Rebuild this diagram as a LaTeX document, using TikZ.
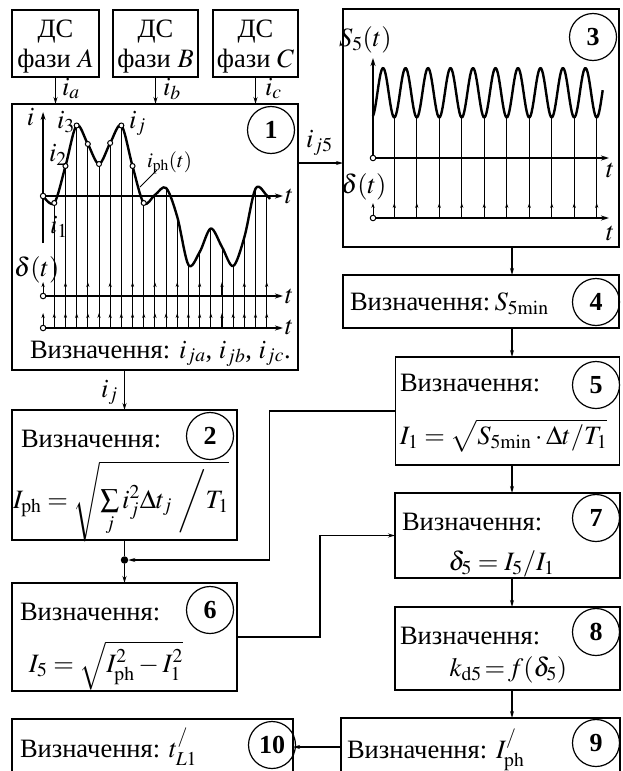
\documentclass[tikz,border=0pt]{standalone}
\usepackage{mathptmx}
\usepackage{fontspec}
\setmainfont{Liberation Serif}
\usetikzlibrary{arrows.meta,calc}
\begin{document}
\begin{tikzpicture}[x=1pt,y=-1pt,
  every node/.style={font=\fontsize{26.5}{30}\selectfont, inner sep=0pt, outer sep=0pt},
  box/.style={draw, line width=1.8pt, rectangle},
  numc/.style={draw, circle, line width=1.2pt, minimum size=47pt, font=\fontsize{26}{30}\selectfont\bfseries},
  arr/.style={line width=1.3pt, -{Stealth[length=7pt,width=4pt]}},
  arrb/.style={line width=1.8pt, -{Stealth[length=7pt,width=4pt]}},
  conn/.style={line width=1.8pt},
  axis/.style={line width=1.5pt, -{Stealth[length=8pt,width=5pt]}},
  imp/.style={line width=1pt, -{Stealth[length=5pt,width=3.2pt]}},
  samp/.style={line width=0.9pt},
  curve/.style={line width=2.4pt, line join=round},
  orig/.style={circle, draw, fill=white, line width=1pt, minimum size=5.5pt},
  lbl/.style={anchor=base west},
  txt/.style={anchor=base west},
  frm/.style={anchor=base}
]
\useasboundingbox (0,0) rectangle (622,771);
\clip (0,0) rectangle (622,771);

% ---------- boxes ----------
\node[box, minimum width=87pt, minimum height=67pt] (bA) at (55.5,43.5) {};
\node[box, minimum width=85pt, minimum height=67pt] (bB) at (155.5,43.5) {};
\node[box, minimum width=85pt, minimum height=67pt] (bC) at (255.5,43.5) {};
\node[box, minimum width=286pt, minimum height=266pt] (b1) at (155,237) {};
\node[box, minimum width=276pt, minimum height=238pt] (b3) at (481,128) {};
\node[box, minimum width=276pt, minimum height=53pt] (b4) at (481,301.5) {};
\node[box, minimum width=224pt, minimum height=108pt] (b5) at (507.5,411) {};
\node[box, minimum width=225pt, minimum height=130pt] (b2) at (124.5,475) {};
\node[box, minimum width=225pt, minimum height=85pt] (b7) at (507.5,535.5) {};
\node[box, minimum width=225pt, minimum height=108pt] (b6) at (124.5,637) {};
\node[box, minimum width=225pt, minimum height=83pt] (b8) at (507.5,648.5) {};
\node[box, minimum width=279pt, minimum height=58pt] (b9) at (480.5,747) {};
\node[box, minimum width=281pt, minimum height=56pt] (b10) at (152.5,747) {};

% ---------- number circles ----------
\node[numc] (c1) at (271,130) {1};
\node[numc] (c2) at (210,436) {2};
\node[numc] (c3) at (593,37) {3};
\node[numc] (c4) at (596,302) {4};
\node[numc] (c5) at (596,385) {5};
\node[numc] (c6) at (210,610) {6};
\node[numc] (c7) at (596,518) {7};
\node[numc] (c8) at (596,632) {8};
\node[numc] (c9) at (596,743) {9};
\node[numc] (c10) at (272,745) {10};

% ---------- texts ----------
\node[anchor=base] (tA1) at (55.5,37) {ДС};
\node[anchor=base] (tA2) at (55.5,67) {фази $A$};
\node[anchor=base] (tB1) at (155.5,37) {ДС};
\node[anchor=base] (tB2) at (155.5,67) {фази $B$};
\node[anchor=base] (tC1) at (255.5,37) {ДС};
\node[anchor=base] (tC2) at (255.5,67) {фази $C$};

\node[txt] (t1) at (30,358) {Визначення: $i_{ja}$, $i_{jb}$, $i_{jc}$.};
\node[txt] (t2) at (21,447) {Визначення:};
\node[frm] (f2) at (121,508) {$I_{\mathrm{ph}}=\sqrt{\sum\limits_j i_j^2\Delta t_j\;\bigg/T_1}$};
\node[txt] (t4) at (350,310) {Визначення:\,$S_{5\mathrm{min}}$};
\node[txt] (t5) at (400,391) {Визначення:};
\node[frm] (f5) at (503.5,444) {$I_1=\sqrt{S_{5\mathrm{min}}\cdot\Delta t/T_1}$};
\node[txt] (t6) at (20,620) {Визначення:};
\node[frm] (f6) at (106,672) {$I_5=\sqrt{I_{\mathrm{ph}}^2-I_1^2}$};
\node[txt] (t7) at (402,530) {Визначення:};
\node[frm] (f7) at (501.5,570) {$\delta_5=I_5/I_1$};
\node[txt] (t8) at (400,644) {Визначення:};
\node[frm] (f8) at (508.5,676) {$k_{\mathrm{d}5}\!=\!f(\delta_5)$};
\node[txt] (t9) at (347,758) {Визначення: $I^{/}_{\mathrm{ph}}$};
\node[txt] (t10) at (20,757) {Визначення: $t^{/}_{L1}$};

% ---------- connectors ----------
\draw[arr] (bA.south) -- (bA.south |- b1.north);
\draw[arr] (bB.south) -- (bB.south |- b1.north);
\draw[arr] (bC.south) -- (bC.south |- b1.north);
\node[lbl] (la) at (62,95) {$i_a$};
\node[lbl] (lb) at (163,95) {$i_b$};
\node[lbl] (lc) at (265,95) {$i_c$};

\draw[arr] ([yshift=-59pt]b1.north east) -- ([yshift=-59pt]b1.north east -| b3.west);
\node[lbl] (lj5) at (306,147) {$i_{j5}$};

\coordinate (col) at (512,0);
\draw[arr] (b3.south -| col) -- (b4.north -| col);
\draw[arr] (b4.south -| col) -- (b5.north -| col);
\draw[arr] (b5.south -| col) -- (b7.north -| col);
\draw[arr] (b7.south -| col) -- (b8.north -| col);
\draw[arr] (b8.south -| col) -- (b9.north -| col);

\draw[arr] (b2.north |- b1.south) -- (b2.north);
\node[lbl] (lj) at (101,397) {$i_j$};

\node[circle, fill, minimum size=7.5pt] (dot) at (124.5,560) {};
\draw[conn] (b2.south) -- (dot);
\draw[arr] (dot) -- (dot |- b6.north);
\draw[arrb] (b5.west) -- ++(-126,0) |- (dot);
\draw[arrb] (b6.east) -- ++(83,0) |- (b7.west);
\draw[arrb] (b9.west) -- (b10.east);

% ---------- plot in box 1 ----------
\foreach \k/\yy in {1/203,2/166,3/125.5,4/144,5/164,6/143,7/125.5,8/166,9/203,10/195,
  11/188,12/217,13/265,14/252,15/228.5,16/247,17/266,18/237,19/188.5,20/195.5}{
  \pgfmathsetmacro{\xx}{43.1+11.18*\k}
  \draw[samp] (\xx,328) -- (\xx,\yy);
  \draw[imp] (\xx,328) -- (\xx,313);
}
\foreach \k in {2,4,...,20}{
  \pgfmathsetmacro{\xx}{43.1+11.18*\k}
  \draw[imp] (\xx,296) -- (\xx,282);
}
\draw[axis] (43.1,243) -- (43.1,112);
\draw[axis] (43.1,196) -- (283,196);
\draw[axis] (43.1,296) -- (283,296);
\draw[axis] (43.1,328) -- (283,328);
\draw[imp] (43.1,296) -- (43.1,282);
\draw[imp] (43.1,328) -- (43.1,313);
\draw[curve] plot[smooth, tension=0.55] coordinates {(43.1,196) (54.3,203) (65.5,166) (76.6,125.5) (87.8,144) (99.0,164) (110.2,143) (121.4,125.5) (132.5,166) (143.7,203) (154.9,195) (166.1,188) (177.3,217) (188.5,265) (199.7,252) (210.8,228.5) (222.0,247) (233.2,266) (244.4,237) (255.6,188.5) (266.8,195.5) (270,199)};
\node[orig] (o1) at (43.1,196) {};
\node[orig] (o2) at (43.1,296) {};
\node[orig] (o3) at (43.1,328) {};
\foreach \k/\yy in {1/203,2/166,3/125.5,4/144,5/164,6/143,7/125.5,8/166,9/203}{
  \pgfmathsetmacro{\xx}{43.1+11.18*\k}
  \node[orig, minimum size=5pt] at (\xx,\yy) {};
}
\node[lbl] (li) at (27,125) {$i$};
\node[lbl] (li3) at (57,128) {$i_3$};
\node[lbl] (li2) at (49,161) {$i_2$};
\node[lbl] (lij) at (129,128) {$i_j$};
\node[lbl] (li1) at (50,233) {$i_1$};
\node[lbl, font=\fontsize{21}{24}\selectfont] (liph) at (147,167) {$i_{\mathrm{ph}}(t)$};
\draw[line width=1pt] (157,170) -- (140,187);
\node[lbl] (ld1) at (14,276) {$\delta(t)$};
\node[lbl] (lt1) at (285,203) {$t$};
\node[lbl] (lt2) at (285,303) {$t$};
\node[lbl] (lt3) at (285,334) {$t$};

% ---------- plot in box 3 ----------
\foreach \n in {1,...,10}{
  \pgfmathsetmacro{\xx}{371.8+22.49*\n}
  \draw[samp] (\xx,218) -- (\xx,117.5);
  \draw[imp] (\xx,218) -- (\xx,203);
}
\draw[axis] (373,158) -- (373,58);
\draw[axis] (373,158) -- (609,158);
\draw[axis] (373,218) -- (609,218);
\draw[imp] (373,218) -- (373,203);
\draw[curve] plot[domain=373:602.7, samples=240] (\x, {92.75+24.75*cos(16.007*(\x-371.8))});
\node[orig] (o4) at (373,158) {};
\node[orig] (o5) at (373,218) {};
\node[lbl] (lS) at (339,46) {$S_5(t)$};
\node[lbl] (ld2) at (341,193) {$\delta(t)$};
\node[lbl] (lt4) at (606,177) {$t$};
\node[lbl] (lt5) at (606,240) {$t$};
\end{tikzpicture}
\end{document}
